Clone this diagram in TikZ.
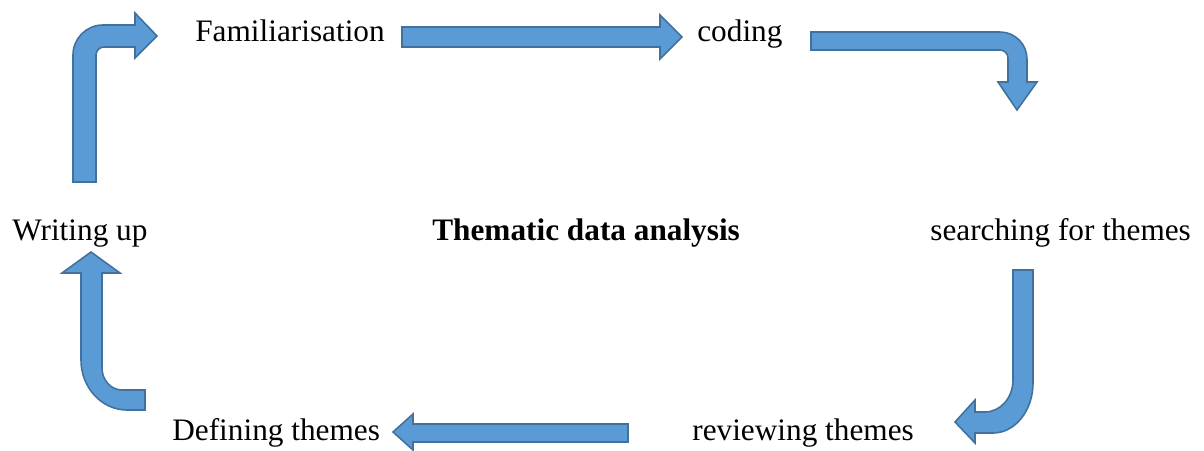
\documentclass[tikz,border=0pt]{standalone}
\usepackage{fontspec}
\setmainfont{Liberation Serif}
\usepackage{xcolor}
\usepackage{tikz}
\definecolor{arrowfill}{HTML}{5B9BD5}
\definecolor{arrowline}{HTML}{41719C}

\begin{document}
\begin{tikzpicture}[
        x=0.02cm, y=-0.02cm,
        blockarrow/.style={fill=arrowfill, draw=arrowline, line width=0.9pt, line join=miter},
        stage/.style={inner sep=0pt, anchor=base west, font=\fontsize{17.8}{20}\selectfont},
        title/.style={stage, font=\fontsize{17.8}{20}\selectfont\bfseries}
    ]
    \useasboundingbox (0,0) rectangle (1204,450);

    % Stages of the cycle
    \node[stage] (famil) at (195,41) {Familiarisation};
    \node[stage] (coding) at (697,41) {coding};
    \node[stage] (search) at (930,240) {searching for themes};
    \node[stage] (review) at (692,440) {reviewing themes};
    \node[stage] (define) at (172,440) {Defining themes};
    \node[stage] (write) at (12,240) {Writing up};

    % Centre title
    \node[title] (topic) at (432,240) {Thematic data analysis};

    % Familiarisation to coding
    \draw[blockarrow] (402,27) -- (660,27) -- (660,15) -- (682,37) -- (660,59)
        -- (660,47) -- (402,47) -- cycle;

    % coding down to searching
    \draw[blockarrow] (811,32) -- (1000,32) .. controls (1014.9,32) and (1027,44.1) .. (1027,59)
        -- (1027,82) -- (1037,82) -- (1017,110) -- (998,82) -- (1008,82)
        -- (1008,58) .. controls (1008,53.6) and (1004.4,50) .. (1000,50)
        -- (811,50) -- cycle;

    % searching down and round to reviewing
    \draw[blockarrow] (1013,270) -- (1033,270) -- (1033,383)
        .. controls (1033,410.6) and (1015.1,433) .. (993,433)
        -- (975,433) -- (975,443) -- (955,422) -- (975,400) -- (975,412) -- (985,412)
        .. controls (1000.5,412) and (1013,397.7) .. (1013,380) -- cycle;

    % reviewing to Defining
    \draw[blockarrow] (628,424) -- (413,424) -- (413,414) -- (393,432) -- (413,450)
        -- (413,442) -- (628,442) -- cycle;

    % Defining round and up to Writing up
    \draw[blockarrow] (145,410) -- (127,410) .. controls (101.6,410) and (81,387.6) .. (81,360)
        -- (81,273) -- (62,273) -- (91,252) -- (120,273) -- (102,273) -- (102,368)
        .. controls (102,380.1) and (111,390) .. (122,390) -- (145,390) -- cycle;

    % Writing up back to Familiarisation
    \draw[blockarrow] (73,182) -- (73,55) .. controls (73,38.4) and (86.4,25) .. (103,25)
        -- (135,25) -- (135,13) -- (157,36) -- (135,58) -- (135,47) -- (104,47)
        .. controls (99.6,47) and (96,50.6) .. (96,55) -- (96,182) -- cycle;

\end{tikzpicture}
\end{document}
